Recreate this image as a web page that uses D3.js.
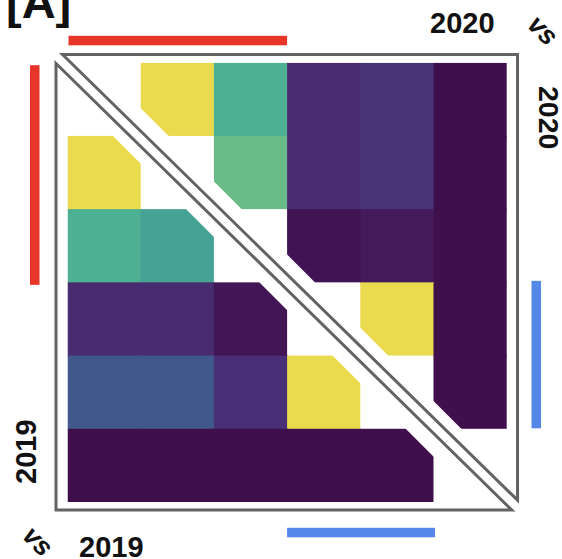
<!DOCTYPE html>
<html>
<head>
<meta charset="utf-8">
<script src="https://cdn.jsdelivr.net/npm/d3@7/dist/d3.min.js"></script>
<style>
  html, body { margin: 0; padding: 0; background: #fff; }
  svg { display: block; }
  text { font-family: "Liberation Sans", Arial, sans-serif; fill: #111; }
</style>
</head>
<body>
<div id="chart"></div>
<script>
// Six groups along both axes (same order for rows and columns)
const groups = ["g1", "g2", "g3", "g4", "g5", "g6"];

// 2020 vs 2020 similarity: upper triangle, row i / column j with j > i
const values2020 = [
  [null, 1.00, 0.61, 0.11, 0.13, 0.01],
  [null, null, 0.70, 0.11, 0.13, 0.01],
  [null, null, null, 0.02, 0.04, 0.01],
  [null, null, null, null, 1.00, 0.01],
  [null, null, null, null, null, 0.01],
  [null, null, null, null, null, null]
];

// 2019 vs 2019 similarity: lower triangle, row i / column j with j < i
const values2019 = [
  [null, null, null, null, null, null],
  [1.00, null, null, null, null, null],
  [0.61, 0.55, null, null, null, null],
  [0.10, 0.10, 0.03, null, null, null],
  [0.26, 0.26, 0.12, 1.00, null, null],
  [0.01, 0.01, 0.01, 0.01, 0.01, null]
];

// Group highlights drawn beside the matrix
const redGroups = ["g1", "g2", "g3"];
const blueGroups = ["g4", "g5"];

const labelTop = "2020";
const labelRight = "2020";
const labelLeft = "2019";
const labelBottom = "2019";
const labelVs = "vs";
const panelTag = "[A]";

const W = 562, H = 559;
const svg = d3.select("#chart").append("svg")
  .attr("width", W).attr("height", H);

const x = d3.scaleBand().domain(groups).range([67.5, 506.7]);
const y = d3.scaleBand().domain(groups).range([62.7, 502]);
const bw = x.bandwidth(), bh = y.bandwidth();
// continuous grid coordinates (in cell units) for outlines and clipping
const gx = d3.scaleLinear().domain([0, groups.length]).range(x.range());
const gy = d3.scaleLinear().domain([0, groups.length]).range(y.range());

// muted viridis: saturation / lightness tweaks along the ramp
const satFactor = d3.scaleLinear().domain([0, 0.1, 0.3, 0.58, 0.7, 1]).range([0.72, 0.85, 0.9, 0.55, 0.76, 0.8]).clamp(true);
const lightShift = d3.scaleLinear().domain([0, 0.3, 0.55, 0.62, 0.7, 1]).range([0.0, 0.01, 0.09, 0.09, 0.065, 0.04]).clamp(true);
const color = v => {
  const c = d3.hsl(d3.interpolateViridis(v));
  c.s *= satFactor(v);
  c.l = Math.min(1, c.l + lightShift(v));
  return c.formatHex();
};

const cut = 0.38;   // corner trimmed from cells along the diagonal
const n = groups.length;
const defs = svg.append("defs");
const toPts = pts => pts.map(p => [gx(p[0]), gy(p[1])].join(",")).join(" ");

defs.append("clipPath").attr("id", "clipUpper")
  .append("polygon").attr("points", toPts([[cut, 0], [n + 0.1, 0], [n + 0.1, n - cut + 0.1]]));
defs.append("clipPath").attr("id", "clipLower")
  .append("polygon").attr("points", toPts([[0, cut], [0, n + 0.1], [n - cut + 0.1, n + 0.1]]));

function cells(matrix) {
  const out = [];
  matrix.forEach((row, i) => row.forEach((v, j) => {
    if (v !== null) out.push({ row: groups[i], col: groups[j], v, i, j });
  }));
  return out;
}

// cells that have a neighbour to the right/below overlap it slightly to avoid seams
function drawCells(matrix, clipId) {
  const data = cells(matrix);
  const has = (i, j) => matrix[i] && matrix[i][j] !== null && matrix[i][j] !== undefined;
  svg.append("g").attr("clip-path", `url(#${clipId})`)
    .selectAll("rect").data(data).join("rect")
    .attr("x", d => x(d.col)).attr("y", d => y(d.row))
    .attr("width", d => bw + (has(d.i, d.j + 1) ? 1 : 0))
    .attr("height", d => bh + (has(d.i + 1, d.j) ? 1 : 0))
    .attr("fill", d => color(d.v));
}
drawCells(values2020, "clipUpper");
drawCells(values2019, "clipLower");

// triangle frames
const frameUpper = [[-0.068, -0.112], [6.148, -0.112], [6.148, 5.975]];
const frameLower = [[-0.157, 0.011], [-0.157, 6.11], [6.07, 6.11]];
[frameUpper, frameLower].forEach(f => {
  svg.append("polygon").attr("points", toPts(f))
    .attr("fill", "none").attr("stroke", "#636363")
    .attr("stroke-width", 3).attr("stroke-linejoin", "miter");
});

// group highlight bars
const first = a => a[0], last = a => a[a.length - 1];
svg.append("rect").attr("fill", "#e8352a")
  .attr("x", x(first(redGroups)) + 1).attr("width", x(last(redGroups)) + bw - x(first(redGroups)) - 1)
  .attr("y", 35.8).attr("height", 9.5);
svg.append("rect").attr("fill", "#e8352a")
  .attr("x", 30).attr("width", 9.5)
  .attr("y", y(first(redGroups)) + 2.5).attr("height", y(last(redGroups)) + bh - y(first(redGroups)));
svg.append("rect").attr("fill", "#5487e8")
  .attr("x", 531.5).attr("width", 9.5)
  .attr("y", y(first(blueGroups)) - 1.5).attr("height", y(last(blueGroups)) + bh - y(first(blueGroups)) + 1);
svg.append("rect").attr("fill", "#5487e8")
  .attr("x", x(first(blueGroups))).attr("width", x(last(blueGroups)) + bw - x(first(blueGroups)) + 1.5)
  .attr("y", 527.8).attr("height", 9.5);

// labels
svg.append("text").text(panelTag)
  .attr("x", 6).attr("y", 17.5)
  .style("font-size", "47px").style("font-weight", "bold");

svg.append("text").text(labelTop)
  .attr("x", 430).attr("y", 32.5)
  .style("font-size", "29px").style("font-weight", "bold");

svg.append("text").text(labelRight)
  .attr("transform", "translate(538.5,86) rotate(90)")
  .style("font-size", "28.5px").style("font-weight", "bold");

svg.append("text").text(labelLeft)
  .attr("transform", "translate(35.5,484) rotate(-90)")
  .style("font-size", "29px").style("font-weight", "bold");

svg.append("text").text(labelBottom)
  .attr("x", 79).attr("y", 556.5)
  .style("font-size", "29px").style("font-weight", "bold");

svg.append("text").text(labelVs)
  .attr("transform", "translate(526,26) rotate(45)")
  .style("font-size", "27px").style("font-style", "italic").style("font-weight", "bold");

svg.append("text").text(labelVs)
  .attr("transform", "translate(21,537) rotate(45)")
  .style("font-size", "27px").style("font-style", "italic").style("font-weight", "bold");
</script>
</body>
</html>
